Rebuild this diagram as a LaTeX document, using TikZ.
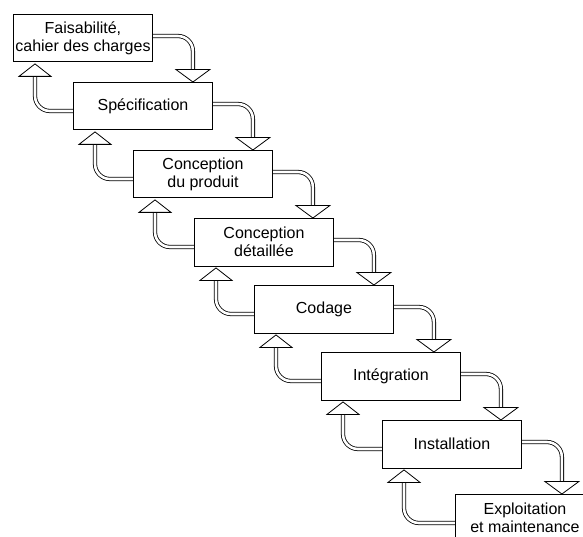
\documentclass[tikz,border=0pt]{standalone}
\usepackage{fontspec}
\setmainfont{Liberation Sans}
\usetikzlibrary{backgrounds}
\begin{document}
\begin{tikzpicture}[x=1pt,y=-1pt,
  stage/.style={draw=black, line width=0.9pt, fill=white, rectangle,
    minimum width=139pt, minimum height=47.5pt, inner sep=0pt,
    anchor=north west, align=center, font=\fontsize{16}{18}\selectfont},
  shaft/.style={draw=black, line width=0.8pt, double=white,
    double distance=2.6pt, rounded corners=15pt},
  head/.style={draw=black, line width=0.8pt, fill=white, line join=miter},
]
\path[use as bounding box] (0,0) rectangle (583,537);
\clip (0,0) rectangle (583,537);

% the phases, stepping down to the right
\node[stage] (b1) at (13,14)   {Faisabilité,\\cahier des charges};
\node[stage] (b2) at (73,82)   {Spécification};
\node[stage] (b3) at (133,150) {Conception\\du produit};
\node[stage] (b4) at (194,218) {Conception\\détaillée};
\node[stage] (b5) at (254,285) {Codage};
\node[stage] (b6) at (321,352) {Intégration};
\node[stage] (b7) at (382,420) {Installation};
\node[stage] (b8) at (455,494) {Exploitation\\et maintenance};

% hollow arrows: forward to the next phase, back to the previous one
\begin{scope}[on background layer]
\foreach \a/\b in {b1/b2,b2/b3,b3/b4,b4/b5,b5/b6,b6/b7,b7/b8} {
  \draw[shaft] ([yshift=-22pt]\a.north east)
    -| ([xshift=40pt,yshift=11pt]\a.east |- \b.north);
  \draw[head] ([xshift=40pt]\a.east |- \b.north)
    -- ++(-17pt,12.5pt) -- ++(34pt,0pt) -- cycle;
  \draw[shaft] ([yshift=-29pt]\b.north west)
    -| ([xshift=22pt,yshift=-12.5pt]\a.south west);
  \draw[head] ([xshift=22pt,yshift=-1.5pt]\a.south west)
    -- ++(-16pt,-12.5pt) -- ++(32pt,0pt) -- cycle;
}
\end{scope}
\end{tikzpicture}
\end{document}
